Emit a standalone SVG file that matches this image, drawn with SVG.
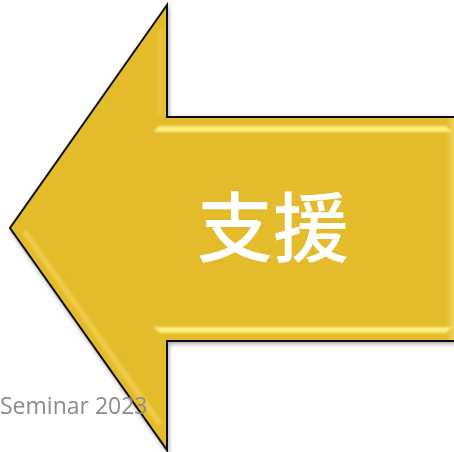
<svg xmlns="http://www.w3.org/2000/svg" width="454" height="452" viewBox="0 0 454 452">
  <style>
    .body { fill: #E4BB2A; stroke: #111; stroke-width: 2; stroke-linejoin: miter; }
    .hl { fill: #FDEE7E; }
    .soft { fill: none; stroke: #F6D862; stroke-width: 6; opacity: 0.55; }
    .label { font-family: "Noto Sans CJK TC", "Noto Sans CJK SC", sans-serif; font-size: 76px; font-weight: 500; fill: #FFFFFF; }
    .footer { font-family: "Open Sans", "Noto Sans", "Liberation Sans", sans-serif; font-size: 23px; fill: #8C8C8C; }
  </style>
  <defs>
    <filter id="shadow" x="-10%" y="-10%" width="120%" height="120%">
      <feGaussianBlur in="SourceAlpha" stdDeviation="2"/>
      <feOffset dx="1" dy="2" result="b"/>
      <feComponentTransfer><feFuncA type="linear" slope="0.35"/></feComponentTransfer>
      <feMerge><feMergeNode/><feMergeNode in="SourceGraphic"/></feMerge>
    </filter>
    <filter id="blur1"><feGaussianBlur stdDeviation="0.8"/></filter>
    <linearGradient id="rightEdge" x1="0" y1="0" x2="1" y2="0">
      <stop offset="0" stop-color="#E4BB2A"/>
      <stop offset="1" stop-color="#F3D45A"/>
    </linearGradient>
  </defs>
  <rect width="454" height="452" fill="#FFFFFF"/>
  <g id="arrow">
    <polygon class="body" filter="url(#shadow)" points="167,5 10,228 167,450 167,341 458,341 458,117 167,117"/>
    <rect x="446" y="118" width="8" height="222" fill="url(#rightEdge)"/>
    <g filter="url(#blur1)">
      <polygon class="hl" points="159,126 446,126 452,132 153,132"/>
      <polygon class="hl" points="153,327 452,327 446,333 160,333"/>
      <polyline class="soft" points="24,231 160,424"/>
      <polyline class="soft" points="160,30 160,116" style="opacity:0.3"/>
    </g>
  </g>
  <g id="label">
    <text class="label" x="273" y="256" text-anchor="middle">支援</text>
  </g>
  <g id="footer">
    <text class="footer" x="0" y="414">Seminar 2023</text>
  </g>
</svg>
